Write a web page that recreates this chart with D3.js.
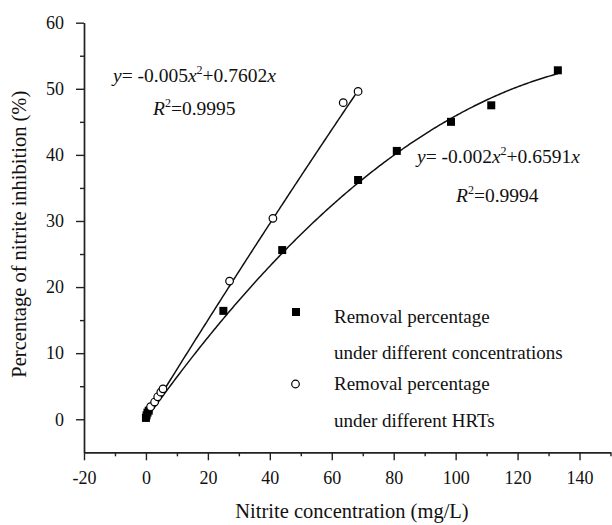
<!DOCTYPE html>
<html lang="en">
<head>
  <meta charset="UTF-8">
  <title>Nitrite inhibition</title>
  <style>
    body { margin: 0; background: #fff; }
    svg text { font-family: "Liberation Serif", "Times New Roman", serif; fill: #111; }
    .axis path, .axis line { stroke: #222; stroke-width: 1.4; }
    .axis text { font-size: 18px; }
  </style>
</head>
<body>
  <svg width="612" height="525"></svg>
  <script src="https://cdn.jsdelivr.net/npm/d3@7"></script>
  <script>
    // removal percentage under different concentrations (filled squares)
    var concX = [0, 0.2, 0.5, 0.9, 25, 44, 68.5, 81, 98.5, 111.5, 133]
    var concY = [0.2, 0.6, 1.0, 1.3, 16.4, 25.6, 36.2, 40.6, 45.0, 47.5, 52.8]
    // removal percentage under different HRTs (open circles)
    var hrtX = [1.5, 2.8, 3.8, 4.8, 5.5, 27, 41, 63.7, 68.5]
    var hrtY = [1.9, 2.6, 3.4, 4.1, 4.6, 20.9, 30.4, 47.9, 49.6]
    // quadratic fits  y = a*x^2 + b*x
    var fitHrt = [-0.0005, 0.7602]
    var fitConc = [-0.002, 0.6591]
    var xTicks = [-20, 0, 20, 40, 60, 80, 100, 120, 140]
    var yTicks = [0, 10, 20, 30, 40, 50, 60]

    var svg = d3.select('svg')
    var x = d3.scaleLinear().domain([-20, 150]).range([84, 610.5])
    var y = d3.scaleLinear().domain([-5, 60]).range([452.3, 22.7])
    var plain = function(d) { return String(d) }

    // minor ticks first
    svg.append('g')
      .attr('class', 'axis')
      .attr('transform', 'translate(0,' + y(-5) + ')')
      .call(d3.axisBottom(x).tickValues(d3.range(-10, 151, 20)).tickSize(4).tickSizeOuter(0).tickFormat(''))
    svg.append('g')
      .attr('class', 'axis')
      .attr('transform', 'translate(' + x(-20) + ',0)')
      .call(d3.axisLeft(y).tickValues(d3.range(5, 60, 10)).tickSize(4).tickSizeOuter(0).tickFormat(''))

    svg.append('g')
      .attr('class', 'axis')
      .attr('transform', 'translate(0,' + y(-5) + ')')
      .call(d3.axisBottom(x).tickValues(xTicks).tickSize(8).tickPadding(11).tickSizeOuter(0).tickFormat(plain))
      .attr('font-family', 'Liberation Serif')
    svg.append('g')
      .attr('class', 'axis')
      .attr('transform', 'translate(' + x(-20) + ',0)')
      .call(d3.axisLeft(y).tickValues(yTicks).tickSize(8).tickPadding(12).tickSizeOuter(0).tickFormat(plain))
      .attr('font-family', 'Liberation Serif')

    svg.append('text')
      .attr('x', 352)
      .attr('y', 518)
      .attr('text-anchor', 'middle')
      .attr('font-size', '20.5px')
      .text('Nitrite concentration (mg/L)')

    svg.append('text')
      .attr('transform', 'translate(26,' + y(28) + ') rotate(-90)')
      .attr('text-anchor', 'middle')
      .attr('font-size', '20.5px')
      .text('Percentage of nitrite inhibition (%)')

    // fit curves
    var line = d3.line()
      .x(function(d) { return x(d[0]) })
      .y(function(d) { return y(d[1]) })
    function fitPoints(c, xmax) {
      return d3.range(0, xmax + 0.01, 0.5).map(function(v) {
        return [v, c[0] * v * v + c[1] * v]
      })
    }
    svg.append('path')
      .datum(fitPoints(fitHrt, 69))
      .attr('d', line)
      .attr('fill', 'none')
      .attr('stroke', '#111')
      .attr('stroke-width', 1.5)
    svg.append('path')
      .datum(fitPoints(fitConc, 133))
      .attr('d', line)
      .attr('fill', 'none')
      .attr('stroke', '#111')
      .attr('stroke-width', 1.5)

    // markers
    svg.selectAll('.sq')
      .data(concX)
      .enter()
      .append('rect')
      .attr('class', 'sq')
      .attr('x', function(d) { return x(d) - 4 })
      .attr('y', function(d, i) { return y(concY[i]) - 4 })
      .attr('width', 8)
      .attr('height', 8)
      .attr('fill', '#000')

    svg.selectAll('.ci')
      .data(hrtX)
      .enter()
      .append('circle')
      .attr('class', 'ci')
      .attr('cx', function(d) { return x(d) })
      .attr('cy', function(d, i) { return y(hrtY[i]) })
      .attr('r', 3.8)
      .attr('fill', '#fff')
      .attr('stroke', '#000')
      .attr('stroke-width', 1.2)

    // equations
    function equation(px, py, a, b) {
      var t = svg.append('text').attr('x', px).attr('y', py).attr('font-size', '19.5px')
      t.append('tspan').attr('font-style', 'italic').text('y')
      t.append('tspan').text('= ' + a)
      t.append('tspan').attr('font-style', 'italic').text('x')
      t.append('tspan').attr('font-size', '12px').attr('dy', -8).text('2')
      t.append('tspan').attr('dy', 8).text('+' + b)
      t.append('tspan').attr('font-style', 'italic').text('x')
    }
    function rsq(px, py, r) {
      var t = svg.append('text').attr('x', px).attr('y', py).attr('font-size', '19.5px')
      t.append('tspan').attr('font-style', 'italic').text('R')
      t.append('tspan').attr('font-size', '12px').attr('dy', -8).text('2')
      t.append('tspan').attr('dy', 8).text('=' + r)
    }
    equation(113, 81.5, '-0.005', '0.7602')
    rsq(153, 115, '0.9995')
    equation(417, 163, '-0.002', '0.6591')
    rsq(456, 201.5, '0.9994')

    // legend
    svg.append('rect').attr('x', 292).attr('y', 308).attr('width', 8).attr('height', 8).attr('fill', '#000')
    svg.append('circle').attr('cx', 295.5).attr('cy', 384).attr('r', 3.8)
      .attr('fill', '#fff').attr('stroke', '#000').attr('stroke-width', 1.2)
    var legendLines = [
      ['Removal percentage', 323],
      ['under different concentrations', 359],
      ['Removal percentage', 390],
      ['under different HRTs', 427]
    ]
    legendLines.forEach(function(l) {
      svg.append('text').attr('x', 334).attr('y', l[1]).attr('font-size', '19px').text(l[0])
    })
  </script>
</body>
</html>
